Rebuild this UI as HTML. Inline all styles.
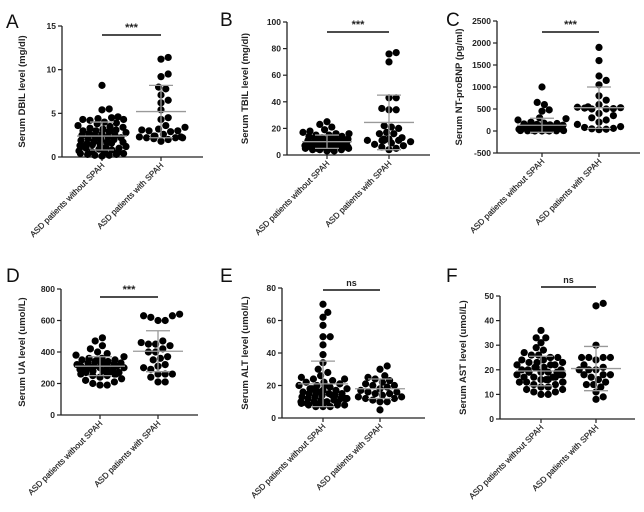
<!DOCTYPE html>
<html><head><meta charset="utf-8"><style>
body{margin:0;background:#fff}
svg{display:block;font-family:"Liberation Sans",Arial,sans-serif}
</style></head><body>
<svg id="fig" width="644" height="512" viewBox="0 0 644 512"></svg>
<script>
// ---- data ----
const groupLabels = ["ASD patients without SPAH","ASD patients with SPAH"];
const panelLetters = ["A","B","C","D","E","F"];
const yTitles = ["Serum DBIL level (mg/dl)","Serum TBIL level (mg/dl)","Serum NT-proBNP (pg/ml)","Serum UA level (umol/L)","Serum ALT level (umol/L)","Serum AST level (umol/L)"];
const sigLabels = ["***","***","***","***","ns","ns"];
const ticksA = [0,5,10,15];
const ticksB = [0,20,40,60,80,100];
const ticksC = [-500,0,500,1000,1500,2000,2500];
const ticksD = [0,200,400,600,800];
const ticksE = [0,20,40,60,80];
const ticksF = [0,10,20,30,40,50];
const A_without = [8.2,5.5,5.4,4.6,4.5,4.4,4.3,4.3,4.2,4.0,3.9,3.8,3.6,3.5,3.4,3.3,3.2,3.1,3.0,3.0,2.9,2.8,2.7,2.6,2.5,2.5,2.4,2.3,2.2,2.1,2.0,2.0,1.9,1.8,1.7,1.6,1.5,1.5,1.4,1.3,1.2,1.1,1.0,1.0,0.9,0.8,0.7,0.6,0.5,0.5,0.4,0.3,0.3,0.2,0.2,0.1,0.4,1.2,2.2,3.0,1.7,2.6,0.8];
const A_with = [11.4,11.2,9.5,9.2,8.0,7.8,7.1,6.5,6.2,5.4,4.5,4.3,3.6,3.4,3.2,3.1,3.0,2.9,2.6,2.4,2.3,2.3,2.2,2.2,2.1,2.2,2.4,2.0,1.8,3.0];
const B_without = [25,23,21,19,18,17,16,16,15,15,14,14,13,13,12,12,12,11,11,11,10,10,10,10,10,9,9,9,9,9,8,8,8,8,8,7,7,7,7,7,6,6,6,6,6,5,5,5,5,4,4,4,3,3,10,11,12,8,9,7,6,13,5,10];
const B_with = [77,76,70,43,43,34,34,22,21,20,17,16,12,11,11,11,10,9,8,7,6,5,4,12,13,16,11,35];
const C_without = [1000,650,600,480,450,300,280,250,200,180,170,160,150,140,130,120,110,100,100,90,90,80,80,70,70,60,60,50,50,40,40,30,30,20,20,10,10,5,5,0,0,0,120,100,80,60,40,20,150,130];
const C_with = [1900,1600,1250,1150,1050,800,700,600,550,540,530,520,510,500,500,400,350,300,250,200,150,100,80,60,50,40,30];
const D_without = [490,470,440,420,400,390,380,370,360,360,350,350,340,340,330,330,320,320,310,310,310,300,300,300,290,290,280,280,270,270,260,260,250,250,240,230,220,210,200,190,190,330,310,290,350,270,320,300,280,260];
const D_with = [640,630,630,620,600,600,470,460,450,450,440,420,400,400,370,360,350,320,310,300,290,260,260,260,240,210,210];
const E_without = [70,65,62,57,50,50,45,39,34,30,28,26,25,24,23,22,22,21,20,20,19,18,18,17,17,16,16,15,15,15,14,14,13,13,12,12,12,11,11,10,10,10,9,9,9,8,8,8,7,7,7,16,14,12,18,20,10,24];
const E_with = [32,30,26,25,24,23,22,21,20,20,19,18,17,16,16,15,15,14,13,13,12,12,11,10,10,5];
const F_without = [36,33,33,31,29,28,27,26,26,25,25,24,24,23,23,22,22,22,21,21,20,20,20,19,19,19,18,18,18,17,17,17,16,16,16,15,15,15,14,14,13,13,12,12,11,11,10,10,21,19,17,23,25,15];
const F_with = [47,46,30,25,25,25,25,24,22,21,20,20,20,18,18,18,17,16,15,14,14,13,11,9,8];
const means = [[2.4,5.2],[10,24.5],[130,530],[310,405],[21,18],[19.5,20.5]];
const sds = [[1.6,3.0],[5,20.5],[160,470],[60,130],[14,6],[6,9]];

// ---- layout (pixel geometry, not data) ----
const panels = [
 {ax:62,top:26,bot:157,right:203,g:[102,161],tx:25,lx:6,ly:28,sig:35,data:[A_without,A_with],ticks:ticksA},
 {ax:287,top:22,bot:155,right:430,g:[327,389],tx:248,lx:220,ly:26,sig:32,data:[B_without,B_with],ticks:ticksB},
 {ax:497,top:21,bot:153,right:640,g:[542,599],tx:462,lx:446,ly:26,sig:32,data:[C_without,C_with],ticks:ticksC},
 {ax:61,top:289,bot:415,right:198,g:[100,158],tx:25,lx:6,ly:282,sig:297,data:[D_without,D_with],ticks:ticksD},
 {ax:282,top:288,bot:418,right:425,g:[323,380],tx:248,lx:220,ly:282,sig:290,data:[E_without,E_with],ticks:ticksE},
 {ax:500,top:296,bot:419,right:635,g:[541,596],tx:466,lx:446,ly:282,sig:287,data:[F_without,F_with],ticks:ticksF}
];
const NS="http://www.w3.org/2000/svg";
const svg=document.getElementById('fig');
function mk(tag,attrs,parent,txt){const e=document.createElementNS(NS,tag);for(const k in attrs)e.setAttribute(k,attrs[k]);if(txt!==undefined)e.textContent=txt;(parent||svg).appendChild(e);return e;}
const R=3.6;
function swarm(vals,cx,y){
  const placed=[];const out=[];
  const order=vals.map((v,i)=>i).sort((a,b)=>vals[a]-vals[b]);
  for(const i of order){
    const py=y(vals[i]);let px=null;
    for(let k=0;k<40;k++){
      const off=(k%2?1:-1)*Math.ceil(k/2)*2.4;
      if(Math.abs(off)>24)break;
      const tx=cx+off;
      if(placed.every(p=>Math.hypot(p[0]-tx,p[1]-py)>=R*1.9)){px=tx;break;}
    }
    if(px===null)px=cx+((i*13)%46)-23;
    placed.push([px,py]);out.push([px,py]);
  }
  return out;
}
panels.forEach((p,pi)=>{
  const g=mk('g',{},svg);
  
  
  const t=p.ticks,lo=t[0],hi=t[t.length-1];
  const y=v=>p.bot-(v-lo)/(hi-lo)*(p.bot-p.top);
  const lt=mk('text',{x:p.lx,y:p.ly,'font-size':19,fill:'#111'},g,panelLetters[pi]);
  
  const ya=mk('line',{x1:p.ax,y1:p.top,x2:p.ax,y2:p.bot,stroke:'#222','stroke-width':1.3},g);
  
  const xa=mk('line',{x1:p.ax,y1:p.bot,x2:p.right,y2:p.bot,stroke:'#222','stroke-width':1.3},g);
  
  t.forEach(v=>{
    mk('line',{x1:p.ax-4,y1:y(v),x2:p.ax,y2:y(v),stroke:'#222','stroke-width':1.2},g);
    const tl=mk('text',{x:p.ax-6,y:y(v)+3,'font-size':8.5,'font-weight':'bold','text-anchor':'end',fill:'#222'},g,v);
    
  });
  const yt=mk('text',{x:p.tx,y:(p.top+p.bot)/2,'font-size':9.5,'font-weight':'bold','text-anchor':'middle',fill:'#222',transform:`rotate(-90 ${p.tx} ${(p.top+p.bot)/2})`},g,yTitles[pi]);
  
  p.g.forEach((gx,gi)=>{
    mk('line',{x1:gx,y1:p.bot,x2:gx,y2:p.bot+4,stroke:'#222','stroke-width':1.2},g);
    const xl=mk('text',{x:gx+3,y:p.bot+9,'font-size':8.3,'text-anchor':'end',fill:'#222',stroke:'#222','stroke-width':0.2,transform:`rotate(-45 ${gx+3} ${p.bot+9})`},g,groupLabels[gi]);
    
    swarm(p.data[gi],gx,y).forEach(([px,py])=>{
      const c=mk('circle',{cx:px,cy:py,r:R,fill:'#000'},g);
      
    });
    const m=means[pi][gi],s=sds[pi][gi];
    const eg=mk('g',{stroke:'#999','stroke-width':1.3},g);
    
    mk('line',{x1:gx,y1:y(m+s),x2:gx,y2:y(Math.max(m-s,lo))},eg);
    mk('line',{x1:gx-25,y1:y(m),x2:gx+25,y2:y(m)},eg);
    mk('line',{x1:gx-12,y1:y(m+s),x2:gx+12,y2:y(m+s)},eg);
    if(m-s>lo) mk('line',{x1:gx-12,y1:y(m-s),x2:gx+12,y2:y(m-s)},eg);
  });
  const sl=mk('line',{x1:p.g[0],y1:p.sig,x2:p.g[1],y2:p.sig,stroke:'#111','stroke-width':1.4},g);
  
  const st=mk('text',{x:(p.g[0]+p.g[1])/2,y:p.sig-4,'font-size':sigLabels[pi]==='ns'?9:11,'font-weight':'bold','text-anchor':'middle',fill:'#222'},g,sigLabels[pi]);
  
});
</script>
</body></html>
